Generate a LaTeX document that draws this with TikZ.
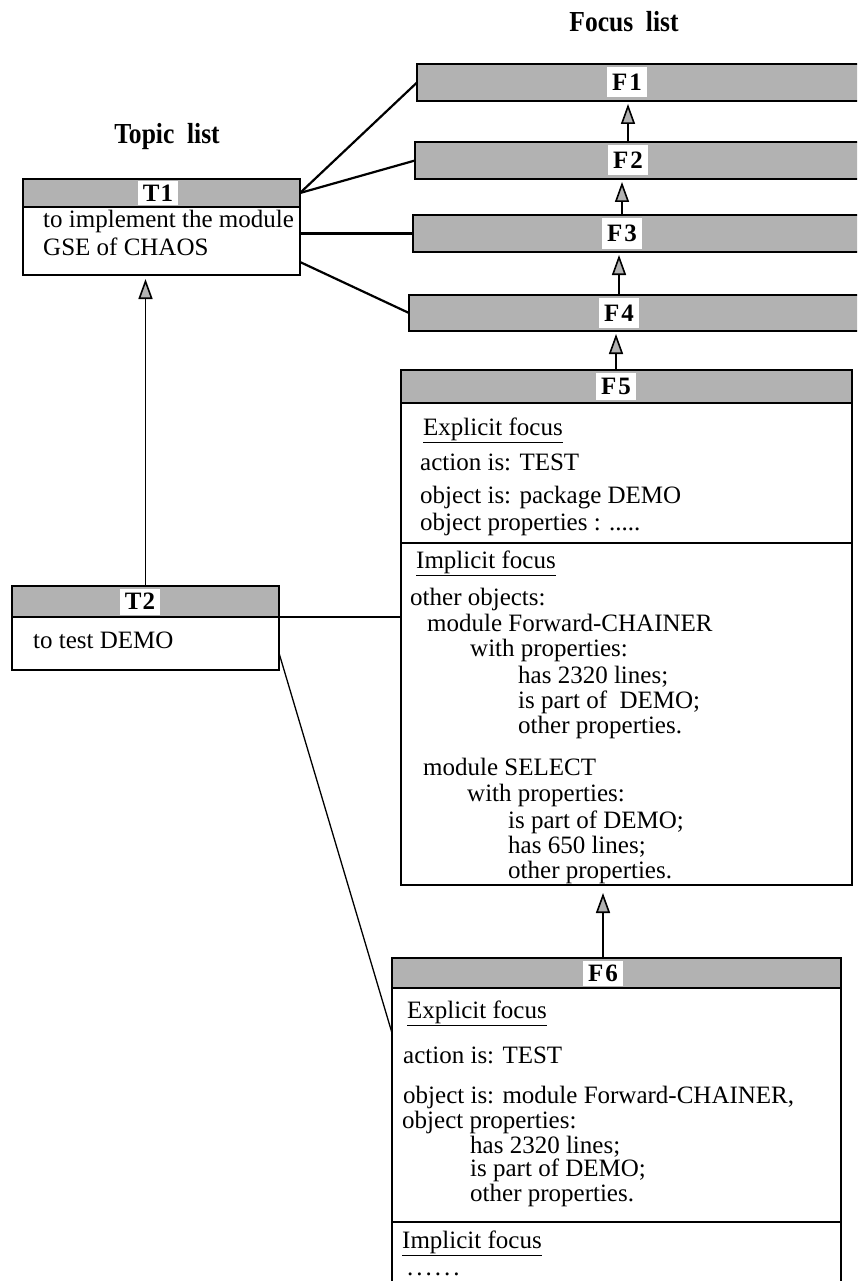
\documentclass[tikz,border=0pt]{standalone}
\usepackage{fontspec}
\setmainfont{Liberation Serif}
\usetikzlibrary{arrows.meta,calc}
\begin{document}
\begin{tikzpicture}[x=1pt,y=-1pt,
  box/.style={draw, line width=2pt, inner sep=0pt, outer sep=0pt},
  hdr/.style={box, fill=black!30},
  side/.style={line width=2pt},
  lbl/.style={fill=white, inner xsep=5pt, inner ysep=0pt, font=\bfseries\fontsize{25}{25}\selectfont},
  txt/.style={anchor=base west, inner sep=0pt, font=\fontsize{25}{25}\selectfont},
  ttl/.style={inner sep=0pt, font=\bfseries\fontsize{29}{29}\selectfont},
  link/.style={line width=2.2pt},
  thinlink/.style={line width=1.3pt},
  up/.style={line width=1.6pt, -{Triangle[length=20pt,width=14pt,fill=black!30]}, shorten >=3pt}
]
\useasboundingbox (0,0) rectangle (857,1281);
\fill[white] (0,0) rectangle (857,1281);
\clip (0,0) rectangle (857,1281);

% titles
\node[ttl] (focusT) at (624,22) {\scalebox{0.88}[1]{Focus\ \ list}};
\node[ttl] (topicT) at (167,137) {\scalebox{0.88}[1]{Topic\ \ list}};

% topic T1
\node[hdr, minimum width=277pt, minimum height=28pt] (T1h) at (161.5,193) {};
\node[box, minimum width=277pt, minimum height=68pt] (T1b) at (161.5,241) {};
\node[lbl, minimum height=24pt] (lT1) at (158,193) {T\kern1pt1};
\node[txt] (t1a) at (43,228) {to implement the module};
\node[txt] (t1b) at (43,255) {GSE of CHAOS};

% topic T2
\node[hdr, minimum width=267pt, minimum height=31pt] (T2h) at (145.5,601.5) {};
\node[box, minimum width=267pt, minimum height=53pt] (T2b) at (145.5,643.5) {};
\node[lbl, minimum height=26pt] (lT2) at (140,601.5) {T\kern1pt2};
\node[txt] (t2a) at (33,648) {to test DEMO};

% focus F1..F4
\node[hdr, minimum width=463pt, minimum height=37pt] (F1) at (648.5,82.5) {};
\node[hdr, minimum width=465pt, minimum height=37pt] (F2) at (647.5,160.5) {};
\node[hdr, minimum width=467pt, minimum height=37pt] (F3) at (646.5,233.5) {};
\node[hdr, minimum width=471pt, minimum height=36pt] (F4) at (644.5,313) {};
\node[lbl, minimum height=30pt] (lF1) at (627,82.5) {F\kern2pt1};
\node[lbl, minimum height=30pt] (lF2) at (628,160.5) {F\kern2pt2};
\node[lbl, minimum height=30pt] (lF3) at (622,233.5) {F\kern2pt3};
\node[lbl, minimum height=30pt] (lF4) at (619,313) {F\kern2pt4};

% focus F5
\node[hdr, minimum width=451pt, minimum height=33pt] (F5h) at (626.5,386.5) {};
\node[box, minimum width=451pt, minimum height=140pt] (F5e) at (626.5,473) {};
\node[box, minimum width=451pt, minimum height=342pt] (F5i) at (626.5,714) {};
\node[lbl, minimum height=27pt] (lF5) at (616,386.5) {F\kern2pt5};
\node[txt] (f5a) at (423,435) {\underline{Explicit focus}};
\node[txt] (f5b) at (420,470) {action is: TEST};
\node[txt] (f5c) at (420,503) {object is: package DEMO};
\node[txt] (f5d) at (420,530) {object properties : .....};
\node[txt] (f5e) at (416,568) {\underline{Implicit focus}};
\node[txt] (f5f) at (410,605) {other objects:};
\node[txt] (f5g) at (427,631) {module Forward-CHAINER};
\node[txt] (f5h) at (470,656) {with properties:};
\node[txt] (f5i) at (518,683) {has 2320 lines;};
\node[txt] (f5j) at (518,708) {is part of~ DEMO;};
\node[txt] (f5k) at (518,733) {other properties.};
\node[txt] (f5l) at (423,775) {module SELECT};
\node[txt] (f5m) at (467,801) {with properties:};
\node[txt] (f5n) at (508,828) {is part of DEMO;};
\node[txt] (f5o) at (508,853) {has 650 lines;};
\node[txt] (f5p) at (508,878) {other properties.};

% focus F6
\node[hdr, minimum width=449pt, minimum height=30pt] (F6h) at (616.5,973) {};
\node[box, minimum width=449pt, minimum height=234pt] (F6e) at (616.5,1105) {};
\node[lbl, minimum height=25pt] (lF6) at (603,973) {F\kern2pt6};
\coordinate (F6end) at (616.5,1300);
\draw[side] (F6e.south west) -- (F6e.south west |- F6end);
\draw[side] (F6e.south east) -- (F6e.south east |- F6end);
\node[txt] (f6a) at (407,1018) {\underline{Explicit focus}};
\node[txt] (f6b) at (403,1063) {action is: TEST};
\node[txt] (f6c) at (403,1103) {object is: module Forward-CHAINER,};
\node[txt] (f6d) at (402,1128) {object properties:};
\node[txt] (f6e) at (470,1153) {has 2320 lines;};
\node[txt] (f6f) at (470,1176) {is part of DEMO;};
\node[txt] (f6g) at (470,1201) {other properties.};
\node[txt] (f6h) at (402,1248) {\underline{Implicit focus}};
\node[txt] (f6i) at (407,1275) {.\kern3pt.\kern3pt.\kern3pt.\kern3pt.\kern3pt.};

% focus chain arrows
\draw[up] (lF2 |- F2.north) -- (lF2 |- F1.south);
\draw[up] (lF3 |- F3.north) -- (lF3 |- F2.south);
\draw[up] (lF4 |- F4.north) -- (lF4 |- F3.south);
\draw[up] (lF5 |- F5h.north) -- (lF5 |- F4.south);
\draw[up, shorten >=8pt] (lF6 |- F6h.north) -- (lF6 |- F5i.south);
\draw[up, shorten >=4pt] (T2h.north) -- (T2h.north |- T1b.south);

% topic to focus links
\draw[link] (T1h.east) -- (F1.west);
\draw[link] (T1h.east) -- (F2.west);
\draw[link] (T1b.east |- F3.west) -- (F3.west);
\draw[link] ($(T1b.south east)+(0,-13)$) -- (F4.west);
\draw[thinlink] (T2b.north east) -- (T2b.north east -| F5i.west);
\draw[thinlink] ($(T2b.south east)+(0,-17)$) -- ($(F6e.north west)+(0,45)$);
\end{tikzpicture}
\end{document}
